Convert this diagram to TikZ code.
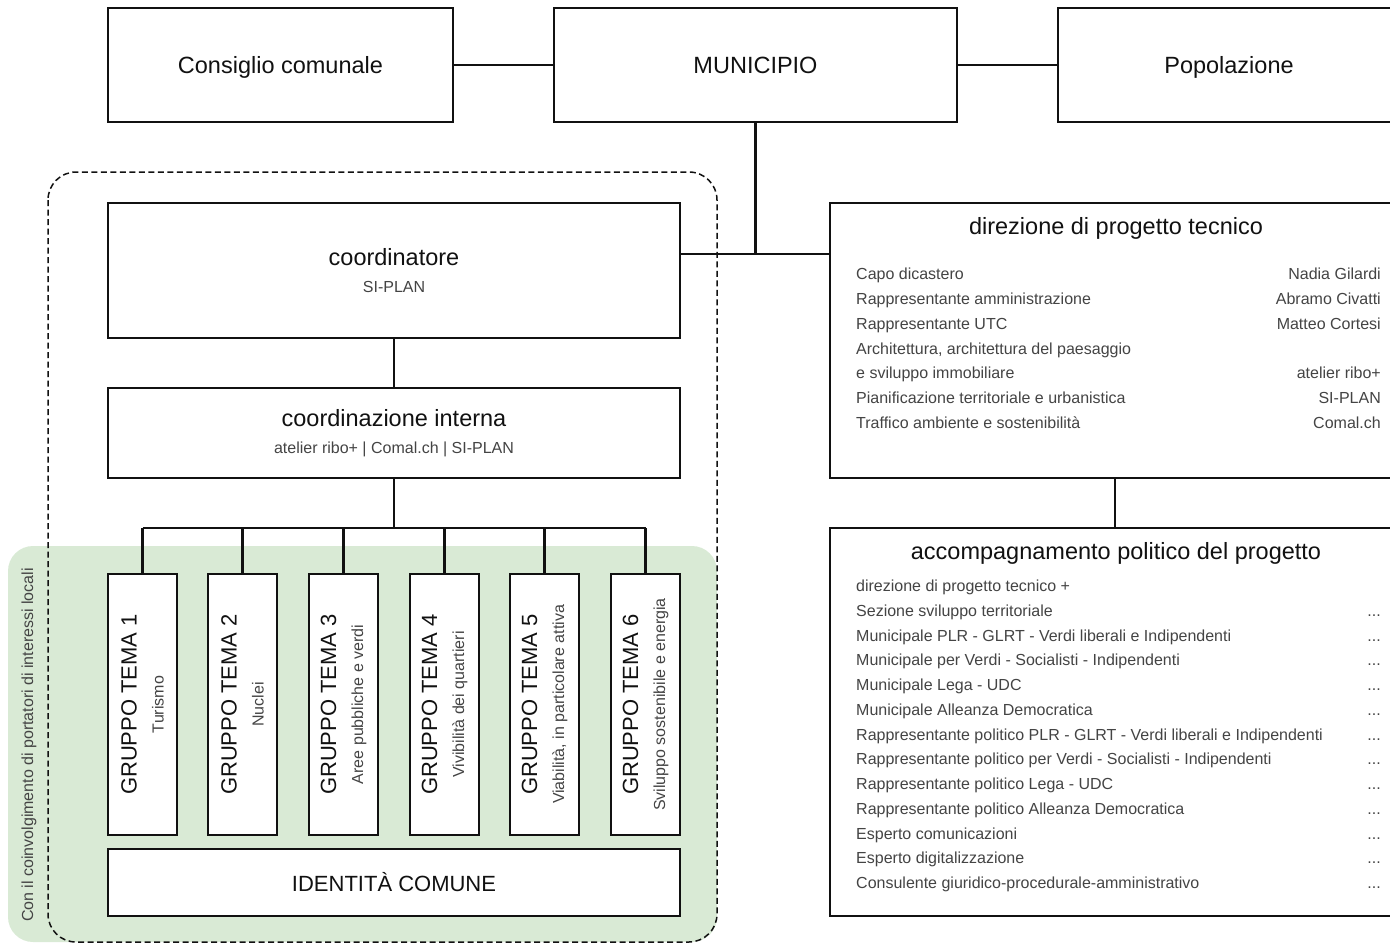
\documentclass[tikz,border=0pt]{standalone}
\usepackage{fontspec}
\setmainfont{Liberation Sans}
\definecolor{greenbg}{HTML}{D9EAD5}
\definecolor{ink}{HTML}{111111}
\definecolor{greytxt}{HTML}{444444}
\newcommand\fTitle{\fontsize{23.5}{27}\selectfont}
\newcommand\fGroup{\fontsize{22}{27}\selectfont}
\newcommand\fSmall{\fontsize{16}{27}\selectfont}
\begin{document}
\begin{tikzpicture}[x=1pt,y=-1pt,
  box/.style={draw=ink, line width=2.4pt, fill=white, inner sep=0pt, text=ink, align=center},
  conn/.style={draw=ink, line width=2.4pt},
  titletxt/.style={inner sep=0pt, text=ink, font=\fTitle, yshift=-2pt},
  listl/.style={anchor=base west, inner sep=0pt, text=greytxt, font=\fSmall},
  listr/.style={anchor=base east, inner sep=0pt, text=greytxt, font=\fSmall},
  grouptxt/.style={rotate=90, align=center, inner sep=0pt, text=ink, font=\fGroup}
]
\useasboundingbox (0,0) rectangle (1390,945);
\clip (0,0) rectangle (1390,945);
% background regions
\fill[greenbg, rounded corners=25pt] (8,546) rectangle (717,942);
\draw[ink, line width=1.5pt, dash pattern=on 6pt off 3.5pt, rounded corners=28pt] (48,172) rectangle (717,942);
\node[rotate=90, inner sep=0pt, text=greytxt, font=\fSmall] (side) at (29,745) {Con il coinvolgimento di portatori di interessi locali};

% top row
\node[box, minimum width=345, minimum height=114, font=\fTitle, text depth=0pt] (cc) at (280.5,65) {Consiglio comunale};
\node[box, minimum width=403, minimum height=114, font=\fTitle] (muni) at (755.5,65) {MUNICIPIO};
\node[box, minimum width=342, minimum height=114, font=\fTitle, text depth=0pt] (pop) at (1229,65) {Popolazione};

% left column
\node[box, minimum width=572, minimum height=135, font=\fTitle] (coord) at (394,270.5) {coordinatore\\{\fSmall\color{greytxt}SI-PLAN}};
\node[box, minimum width=572, minimum height=90, font=\fTitle] (ci) at (394,433) {coordinazione interna\\{\fSmall\color{greytxt}atelier ribo+ | Comal.ch | SI-PLAN}};

\node[box, minimum width=69, minimum height=261] (g1) at (142.5,704.5) {};
\node[box, minimum width=69, minimum height=261] (g2) at (242.5,704.5) {};
\node[box, minimum width=69, minimum height=261] (g3) at (343.5,704.5) {};
\node[box, minimum width=69, minimum height=261] (g4) at (444.5,704.5) {};
\node[box, minimum width=69, minimum height=261] (g5) at (544.5,704.5) {};
\node[box, minimum width=69, minimum height=261] (g6) at (645.5,704.5) {};
\node[grouptxt] (gl1) at (g1) {GRUPPO TEMA 1\\{\fSmall\color{greytxt}Turismo}};
\node[grouptxt] (gl2) at (g2) {GRUPPO TEMA 2\\{\fSmall\color{greytxt}Nuclei}};
\node[grouptxt] (gl3) at (g3) {GRUPPO TEMA 3\\{\fSmall\color{greytxt}Aree pubbliche e verdi}};
\node[grouptxt] (gl4) at (g4) {GRUPPO TEMA 4\\{\fSmall\color{greytxt}Vivibilità dei quartieri}};
\node[grouptxt] (gl5) at (g5) {GRUPPO TEMA 5\\{\fSmall\color{greytxt}Viabilità, in particolare attiva}};
\node[grouptxt] (gl6) at (g6) {GRUPPO TEMA 6\\{\fSmall\color{greytxt}Sviluppo sostenibile e energia}};

\node[box, minimum width=572, minimum height=67, font=\fGroup] (ident) at (394,882.5) {IDENTITÀ COMUNE};

% right column
\node[box, minimum width=570, minimum height=275] (dir) at (1115,340.5) {};
\node[titletxt] (dirT) at (1116,226) {direzione di progetto tecnico};
\node[listl] (dl1) at (856,279.5) {Capo dicastero};
\node[listl] (dl2) at (856,304.5) {Rappresentante amministrazione};
\node[listl] (dl3) at (856,329.3) {Rappresentante UTC};
\node[listl] (dl4) at (856,354) {Architettura, architettura del paesaggio};
\node[listl] (dl5) at (856,378.8) {e sviluppo immobiliare};
\node[listl] (dl6) at (856,403.6) {Pianificazione territoriale e urbanistica};
\node[listl] (dl7) at (856,428.5) {Traffico ambiente e sostenibilità};
\node[listr] (dr1) at (1381,279.5) {Nadia Gilardi};
\node[listr] (dr2) at (1381,304.5) {Abramo Civatti};
\node[listr] (dr3) at (1381,329.3) {Matteo Cortesi};
\node[listr] (dr5) at (1381,378.8) {atelier ribo+};
\node[listr] (dr6) at (1381,403.6) {SI-PLAN};
\node[listr] (dr7) at (1381,428.5) {Comal.ch};

\node[box, minimum width=570, minimum height=388] (acc) at (1115,722) {};
\node[titletxt] (accT) at (1116,551) {accompagnamento politico del progetto};
\node[listl] (al1) at (856,591.5) {direzione di progetto tecnico +};
\node[listl] (al2) at (856,616.25) {Sezione sviluppo territoriale};
\node[listl] (al3) at (856,641) {Municipale PLR - GLRT - Verdi liberali e Indipendenti};
\node[listl] (al4) at (856,665.75) {Municipale per Verdi - Socialisti - Indipendenti};
\node[listl] (al5) at (856,690.5) {Municipale Lega - UDC};
\node[listl] (al6) at (856,715.25) {Municipale Alleanza Democratica};
\node[listl] (al7) at (856,740) {Rappresentante politico PLR - GLRT - Verdi liberali e Indipendenti};
\node[listl] (al8) at (856,764.75) {Rappresentante politico per Verdi - Socialisti - Indipendenti};
\node[listl] (al9) at (856,789.5) {Rappresentante politico Lega - UDC};
\node[listl] (al10) at (856,814.25) {Rappresentante politico Alleanza Democratica};
\node[listl] (al11) at (856,839) {Esperto comunicazioni};
\node[listl] (al12) at (856,863.75) {Esperto digitalizzazione};
\node[listl] (al13) at (856,888.5) {Consulente giuridico-procedurale-amministrativo};
\node[listr] (ar2) at (1381,616.25) {...};
\node[listr] (ar3) at (1381,641) {...};
\node[listr] (ar4) at (1381,665.75) {...};
\node[listr] (ar5) at (1381,690.5) {...};
\node[listr] (ar6) at (1381,715.25) {...};
\node[listr] (ar7) at (1381,740) {...};
\node[listr] (ar8) at (1381,764.75) {...};
\node[listr] (ar9) at (1381,789.5) {...};
\node[listr] (ar10) at (1381,814.25) {...};
\node[listr] (ar11) at (1381,839) {...};
\node[listr] (ar12) at (1381,863.75) {...};
\node[listr] (ar13) at (1381,888.5) {...};

% connectors
\coordinate (jn) at (755.5,254);
\coordinate (bus) at (394,528);
\draw[conn] (cc.east) -- (muni.west);
\draw[conn] (muni.east) -- (pop.west);
\draw[conn] (muni.south) -- (jn);
\draw[conn] (coord.east |- jn) -- (dir.west |- jn);
\draw[conn] (coord.south) -- (ci.north);
\draw[conn] (ci.south) -- (bus);
\draw[conn] (g1.north |- bus) -- (g6.north |- bus);
\draw[conn] (g1.north |- bus) -- (g1.north);
\draw[conn] (g2.north |- bus) -- (g2.north);
\draw[conn] (g3.north |- bus) -- (g3.north);
\draw[conn] (g4.north |- bus) -- (g4.north);
\draw[conn] (g5.north |- bus) -- (g5.north);
\draw[conn] (g6.north |- bus) -- (g6.north);
\draw[conn] (dir.south) -- (acc.north);
\end{tikzpicture}
\end{document}
